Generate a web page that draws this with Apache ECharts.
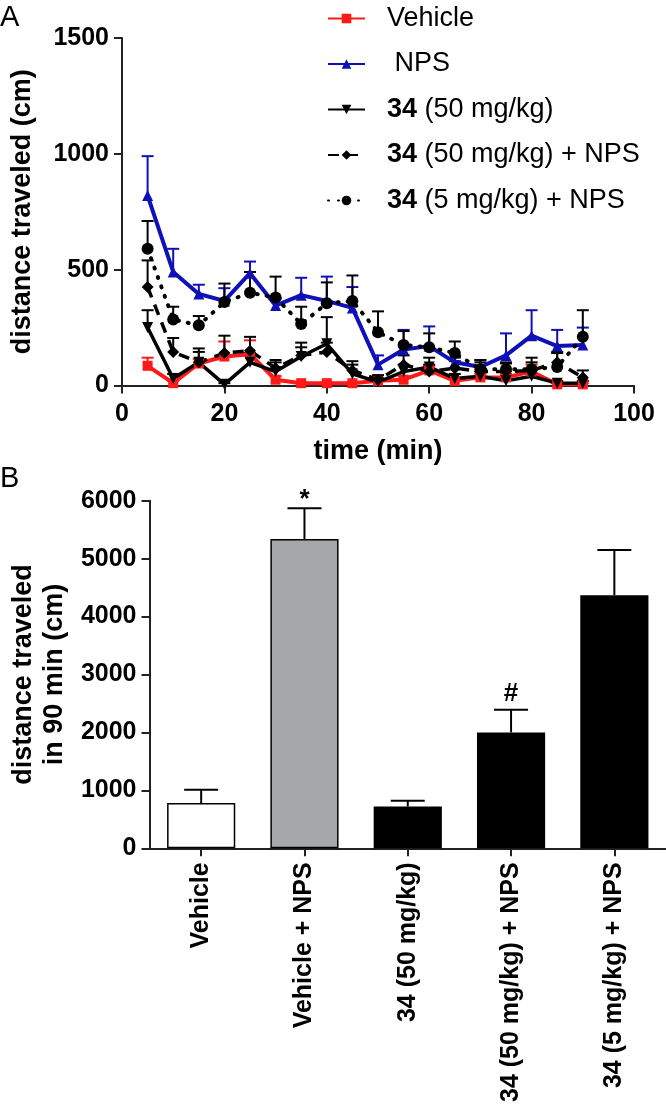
<!DOCTYPE html>
<html>
<head>
<meta charset="utf-8">
<script src="https://cdn.jsdelivr.net/npm/echarts@6/dist/echarts.min.js"></script>
<style>
  html, body { margin: 0; padding: 0; background: #fff; }
  #chart { width: 666px; height: 1114px; }
</style>
</head>
<body>
<div id="chart"></div>
<script>
// A: distance per 5 min bin
const times = [5, 10, 15, 20, 25, 30, 35, 40, 45, 50, 55, 60, 65, 70, 75, 80, 85, 90];
const vehicle = [85, 10, 95, 125, 135, 25, 10, 10, 10, 20, 25, 65, 20, 35, 35, 60, 5, 5];
const vehicleErr = [35, 10, 20, 65, 60, 15, 5, 5, 5, 10, 15, 20, 10, 15, 15, 30, 5, 5];
const nps = [820, 490, 395, 365, 485, 345, 390, 365, 335, 90, 155, 170, 100, 80, 130, 215, 170, 175];
const npsErr = [170, 100, 40, 55, 50, 30, 75, 105, 90, 40, 85, 85, 20, 30, 95, 110, 70, 75];
const c50 = [250, 30, 100, 5, 100, 60, 125, 180, 50, 15, 60, 80, 30, 40, 20, 40, 10, 10];
const c50Err = [75, 20, 45, 5, 40, 40, 40, 115, 40, 15, 30, 40, 20, 20, 20, 30, 10, 10];
const c50Nps = [425, 145, 100, 140, 150, 75, 130, 145, 65, 25, 90, 60, 75, 60, 60, 65, 100, 35];
const c50NpsErr = [115, 60, 60, 75, 60, 35, 55, 40, 40, 20, 40, 30, 30, 50, 35, 55, 45, 30];
const c5Nps = [590, 285, 260, 360, 400, 380, 265, 355, 365, 230, 175, 165, 140, 70, 70, 70, 80, 210];
const c5NpsErr = [120, 55, 40, 80, 90, 90, 75, 90, 110, 90, 60, 60, 50, 30, 30, 30, 60, 115];

// B: total in 90 min
const groups = ['Vehicle', 'Vehicle + NPS', '34 (50 mg/kg)', '34 (50 mg/kg) + NPS', '34 (5 mg/kg) + NPS'];
const totals = [780, 5340, 720, 2000, 4370];
const totalsErr = [230, 530, 100, 390, 780];
const marks = ['', '*', '', '#', ''];

const FONT = 'Liberation Sans, Arial, sans-serif';
const RED = '#ff1a1a';
const BLUE = '#1010b8';
const BLACK = '#000';
const barColors = ['#ffffff', '#a6a7ab', '#000000', '#000000', '#000000'];

const chart = echarts.init(document.getElementById('chart'));

function errBars(gi, xs, vals, errs, color, half, labels) {
  return {
    type: 'custom',
    xAxisIndex: gi,
    yAxisIndex: gi,
    silent: true,
    z: gi === 0 ? 1 : 3,
    data: xs.map((x, i) => [x, vals[i], errs[i], i]),
    encode: { x: 0, y: 1 },
    renderItem: function (params, api) {
      const b = api.coord([api.value(0), api.value(1)]);
      const t = api.coord([api.value(0), api.value(1) + api.value(2)]);
      const st = { stroke: color, lineWidth: 2 };
      const kids = [
        { type: 'line', shape: { x1: b[0], y1: b[1], x2: t[0], y2: t[1] }, style: st },
        { type: 'line', shape: { x1: t[0] - half, y1: t[1], x2: t[0] + half, y2: t[1] }, style: st }
      ];
      const m = labels ? labels[api.value(3)] : '';
      if (m) {
        kids.push({
          type: 'text',
          style: {
            text: m, x: t[0], y: t[1] + (m === '*' ? 5 : -3),
            align: 'center', verticalAlign: 'bottom',
            fontSize: 26, fontWeight: 'bold', fontFamily: FONT, fill: '#000'
          }
        });
      }
      return { type: 'group', children: kids };
    }
  };
}

function lineSeries(name, vals, color, symbol, size, lineStyle, extra) {
  return Object.assign({
    name: name,
    type: 'line',
    xAxisIndex: 0,
    yAxisIndex: 0,
    data: times.map((t, i) => [t, vals[i]]),
    symbol: symbol,
    symbolSize: size,
    itemStyle: { color: color },
    lineStyle: Object.assign({ color: color }, lineStyle),
    z: 2
  }, extra || {});
}

const plain = v => String(v);

const axisCommon = {
  axisLine: { show: true, onZero: false, lineStyle: { color: '#222', width: 2 } },
  axisTick: { show: true, length: 8, lineStyle: { color: '#222', width: 2 } },
  splitLine: { show: false },
  axisLabel: { fontSize: 25, fontWeight: 'bold', fontFamily: FONT, color: '#000', formatter: plain },
  nameTextStyle: { fontSize: 27, fontWeight: 'bold', fontFamily: FONT, color: '#000' }
};

const names = ['Vehicle', ' NPS', '34 (50 mg/kg)', '34 (50 mg/kg) + NPS', '34 (5 mg/kg) + NPS'];

const option = {
  animation: false,
  backgroundColor: '#fff',
  graphic: [
    { type: 'text', left: 0, top: 3, style: { text: 'A', font: 'normal 29px Liberation Sans', fill: '#000' } },
    { type: 'text', left: 0, top: 464, style: { text: 'B', font: 'normal 29px Liberation Sans', fill: '#000' } }
  ],
  legend: {
    data: names,
    orient: 'vertical',
    left: 322,
    top: 0,
    itemWidth: 37,
    itemHeight: 12,
    itemGap: 18.5,
    selectedMode: false,
    formatter: n => n.indexOf('34') === 0 ? '{b|34}' + n.slice(2) : n,
    textStyle: {
      fontSize: 27, fontFamily: FONT, color: '#000', lineHeight: 24,
      padding: [0, 0, 0, 17],
      rich: { b: { fontSize: 27, fontWeight: 'bold', fontFamily: FONT, color: '#000', lineHeight: 24 } }
    }
  },
  grid: [
    { left: 113, top: 38, width: 521, height: 347.5 },
    { left: 140, top: 500.7, width: 526, height: 347.6 }
  ],
  xAxis: [
    Object.assign({}, axisCommon, {
      type: 'value', gridIndex: 0, min: 0, max: 100, interval: 20,
      name: 'time (min)', nameLocation: 'middle', nameGap: 52,
      axisLabel: Object.assign({}, axisCommon.axisLabel, { margin: 16 }),
      nameTextStyle: Object.assign({}, axisCommon.nameTextStyle, { lineHeight: 28 })
    }),
    Object.assign({}, axisCommon, {
      type: 'category', gridIndex: 1, data: groups,
      axisTick: { show: true, alignWithLabel: true, length: 8, lineStyle: { color: '#222', width: 2 } },
      axisLabel: Object.assign({}, axisCommon.axisLabel, { rotate: 90, interval: 0, margin: 14 })
    })
  ],
  yAxis: [
    Object.assign({}, axisCommon, {
      type: 'value', gridIndex: 0, min: 0, max: 1500, interval: 500,
      name: 'distance traveled (cm)', nameLocation: 'middle', nameGap: 84,
      axisLabel: Object.assign({}, axisCommon.axisLabel, { margin: 13 }),
      nameTextStyle: Object.assign({}, axisCommon.nameTextStyle, { lineHeight: 30 })
    }),
    Object.assign({}, axisCommon, {
      type: 'value', gridIndex: 1, min: 0, max: 6000, interval: 1000,
      name: 'distance traveled\nin 90 min (cm)', nameLocation: 'middle', nameGap: 78,
      axisLabel: Object.assign({}, axisCommon.axisLabel, { margin: 13 }),
      nameTextStyle: Object.assign({}, axisCommon.nameTextStyle, { lineHeight: 31 })
    })
  ],
  series: [
    errBars(0, times, vehicle, vehicleErr, RED, 6),
    errBars(0, times, nps, npsErr, BLUE, 6),
    errBars(0, times, c50, c50Err, BLACK, 6),
    errBars(0, times, c50Nps, c50NpsErr, BLACK, 6),
    errBars(0, times, c5Nps, c5NpsErr, BLACK, 6),
    lineSeries(names[0], vehicle, RED, 'rect', 10, { width: 4 }),
    lineSeries(names[1], nps, BLUE, 'triangle', 11, { width: 4 }),
    lineSeries(names[2], c50, BLACK, 'triangle', 11, { width: 3.5 }, { symbolRotate: 180 }),
    lineSeries(names[3], c50Nps, BLACK, 'diamond', 12, { width: 3.5, type: [11, 8] }),
    lineSeries(names[4], c5Nps, BLACK, 'circle', 12, { width: 4, type: [1, 9], cap: 'round' }),
    {
      type: 'bar',
      xAxisIndex: 1,
      yAxisIndex: 1,
      barWidth: '66%',
      silent: true,
      z: 2,
      itemStyle: { borderColor: '#000', borderWidth: 1.5 },
      data: totals.map((v, i) => ({ value: v, itemStyle: { color: barColors[i] } }))
    },
    errBars(1, groups, totals, totalsErr, BLACK, 17, marks)
  ]
};

chart.setOption(option);
window.addEventListener('resize', function () { chart.resize(); });
</script>
</body>
</html>
